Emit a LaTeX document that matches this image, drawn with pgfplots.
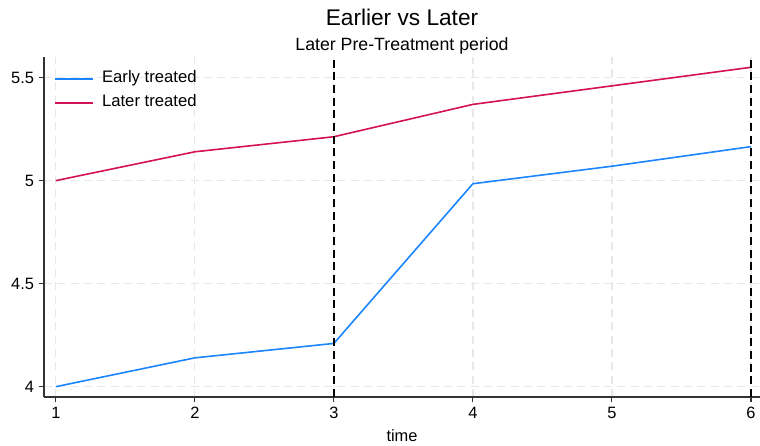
\documentclass[border=0pt]{standalone}
\usepackage{fontspec}
\setmainfont{Liberation Sans}
\usepackage{pgfplots}
\pgfplotsset{compat=1.18}
\definecolor{stc1}{RGB}{26,133,255}
\definecolor{stc2}{RGB}{212,17,89}
\definecolor{gridc}{RGB}{232,232,232}
\begin{document}
\begin{tikzpicture}
\begin{axis}[
  scale only axis, width=537pt, height=255pt,
  xmin=0.915, xmax=6.065, ymin=3.95, ymax=5.6,
  axis x line*=bottom, axis y line*=left,
  axis line style={black!80, line width=0.8pt, -},
  xtick={1,2,3,4,5,6}, ytick={4,4.5,5,5.5},
  yticklabels={4,4.5,5,5.5},
  tick align=outside, major tick length=4pt,
  tick style={black!80, line width=0.8pt},
  tick label style={font=\fontsize{12.3}{14}\selectfont},
  /pgf/number format/assume math mode=true,
  grid=major, grid style={gridc, line width=0.9pt, dash pattern=on 6pt off 4pt},
  xlabel={time}, xlabel style={font=\fontsize{12.3}{14}\selectfont, yshift=-1pt},
  legend style={draw=none, fill=none, at={(0,1)}, anchor=north west, xshift=4pt, yshift=-5.6pt,
    font=\fontsize{12.5}{14}\selectfont, row sep=1pt,
    nodes={text height=9.5pt, text depth=3.5pt, inner sep=2pt}},
  legend cell align=left,
  legend image code/.code={\draw[#1, line width=1.5pt] (0pt,0pt) -- (28.5pt,0pt); \path (33pt,0pt);},
]
\addplot[stc1, line width=1.2pt] coordinates {(1,4.0) (2,4.14) (3,4.21) (4,4.985) (5,5.07) (6,5.165)};
\addlegendentry{Early treated}
\addplot[stc2, line width=1.2pt] coordinates {(1,5.0) (2,5.14) (3,5.213) (4,5.37) (5,5.46) (6,5.55)};
\addlegendentry{Later treated}
\addplot[black, line width=1.3pt, dash pattern=on 6pt off 3.5pt, forget plot] coordinates {(3,3.95) (3,5.6)};
\addplot[black, line width=1.3pt, dash pattern=on 6pt off 3.5pt, forget plot] coordinates {(6,3.95) (6,5.6)};
\end{axis}
\node[font=\fontsize{17}{19}\selectfont] at ([yshift=29.5pt]current axis.north) {Earlier vs Later};
\node[font=\fontsize{13.3}{15}\selectfont] at ([yshift=8.5pt]current axis.north) {Later Pre-Treatment period};
\pgfresetboundingbox
\path[use as bounding box] ([xshift=-33pt,yshift=-36.75pt]current axis.south west) rectangle ([yshift=42.75pt]current axis.north east);
\end{tikzpicture}
\end{document}
